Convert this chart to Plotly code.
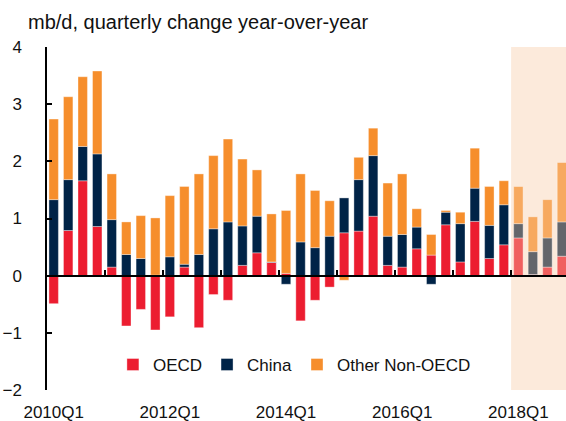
import plotly.graph_objects as go

quarters = [
    "2010Q1", "2010Q2", "2010Q3", "2010Q4",
    "2011Q1", "2011Q2", "2011Q3", "2011Q4",
    "2012Q1", "2012Q2", "2012Q3", "2012Q4",
    "2013Q1", "2013Q2", "2013Q3", "2013Q4",
    "2014Q1", "2014Q2", "2014Q3", "2014Q4",
    "2015Q1", "2015Q2", "2015Q3", "2015Q4",
    "2016Q1", "2016Q2", "2016Q3", "2016Q4",
    "2017Q1", "2017Q2", "2017Q3", "2017Q4",
    "2018Q1", "2018Q2", "2018Q3", "2018Q4",
]

oecd = [-0.49, 0.79, 1.66, 0.86, 0.15, -0.88, -0.59, -0.95,
        -0.72, 0.15, -0.91, -0.33, -0.43, 0.18, 0.40, 0.23,
        0.04, -0.79, -0.43, -0.20, 0.75, 0.78, 1.04, 0.18,
        0.15, 0.47, 0.36, 0.89, 0.24, 0.95, 0.30, 0.54,
        0.66, 0.02, 0.15, 0.34]
china = [1.33, 0.89, 0.60, 1.27, 0.83, 0.37, 0.30, 0.01,
         0.33, 0.05, 0.37, 0.82, 0.94, 0.69, 0.64, 0.01,
         -0.15, 0.59, 0.49, 0.69, 0.61, 0.90, 1.06, 0.51,
         0.57, 0.38, -0.15, 0.22, 0.67, 0.58, 0.58, 0.70,
         0.25, 0.40, 0.51, 0.60]
other = [1.41, 1.45, 1.22, 1.45, 0.80, 0.57, 0.75, 1.00,
         1.07, 1.36, 1.41, 1.28, 1.45, 1.17, 0.81, 0.84,
         1.10, 1.19, 1.00, 0.62, -0.08, 0.39, 0.48, 0.93,
         1.06, 0.32, 0.36, 0.03, 0.20, 0.70, 0.68, 0.42,
         0.65, 0.61, 0.67, 1.04]

forecast_start = "2018Q1"
label_quarters = ["2010Q1", "2012Q1", "2014Q1", "2016Q1", "2018Q1"]
y_ticks = [-2, -1, 0, 1, 2, 3, 4]

series = [
    ("OECD", oecd, "#EC1D30", "#F0605F"),
    ("China", china, "#002347", "#63666B"),
    ("Other Non-OECD", other, "#F68E2C", "#F7A95F"),
]

FONT = "Arial, Liberation Sans, sans-serif"
idx = list(range(len(quarters)))
fc = quarters.index(forecast_start)
year_bounds = [i - 0.5 for i in idx if quarters[i].endswith("Q1") and i > 0]

fig = go.Figure()
for name, vals, col, fcol in series:
    colors = [col if i < fc else fcol for i in idx]
    fig.add_trace(go.Bar(
        x=idx, y=vals, name=name,
        marker=dict(color=colors, line=dict(color="rgba(255,255,255,0.45)", width=0.8)),
        xaxis="x", yaxis="y",
    ))

# helper axis for the bottom labels
fig.add_trace(go.Scatter(x=[], y=[], xaxis="x2", yaxis="y", showlegend=False,
                         hoverinfo="skip"))

xr = [-0.46, 35.28]
fig.add_shape(type="rect", xref="x", yref="paper", x0=fc - 0.5, x1=xr[1] + 1,
              y0=0, y1=1, fillcolor="#FCEADB", line=dict(width=0), layer="below")

W, H = 566, 421
ymin, ymax = -2, 4
fig.update_layout(
    width=W, height=H,
    margin=dict(l=47, r=0, t=47, b=31),
    paper_bgcolor="white", plot_bgcolor="white",
    barmode="relative", bargap=0.35,
    font=dict(family=FONT, size=17, color="#111"),
    title=dict(text="mb/d, quarterly change year-over-year",
               font=dict(family=FONT, size=20, color="#111"),
               xref="container", yref="container",
               x=28 / W, xanchor="left", y=1 - 22 / H, yanchor="middle"),
    xaxis=dict(range=xr, anchor="free", position=(0 - ymin) / (ymax - ymin),
               showline=True, linecolor="black", linewidth=2,
               ticks="inside", ticklen=5, tickwidth=2, tickcolor="black",
               tickvals=year_bounds, showticklabels=False, showgrid=False,
               zeroline=False),
    xaxis2=dict(range=xr, overlaying="x", anchor="y", side="bottom",
                tickvals=[quarters.index(q) for q in label_quarters],
                ticktext=label_quarters, showline=False, ticks="",
                showgrid=False, zeroline=False, ticklabelstandoff=10,
                tickfont=dict(size=17)),
    yaxis=dict(range=[ymin, ymax], tickvals=y_ticks, showline=True,
               linecolor="black", linewidth=1.5, ticks="inside", ticklen=5,
               tickwidth=1.5, tickcolor="black", showgrid=False,
               zeroline=False, ticklabelstandoff=20, tickfont=dict(size=17)),
    legend=dict(orientation="h", x=0.127, xanchor="left", y=0.073,
                yanchor="middle", bgcolor="rgba(0,0,0,0)", traceorder="normal",
                font=dict(size=17)),
    showlegend=True,
)

fig.write_html("out.html", default_width=f"{W}px", default_height=f"{H}px",
               config={"displayModeBar": False},
               post_script="document.body.style.margin='0';"
                           "document.body.style.overflow='hidden';")
